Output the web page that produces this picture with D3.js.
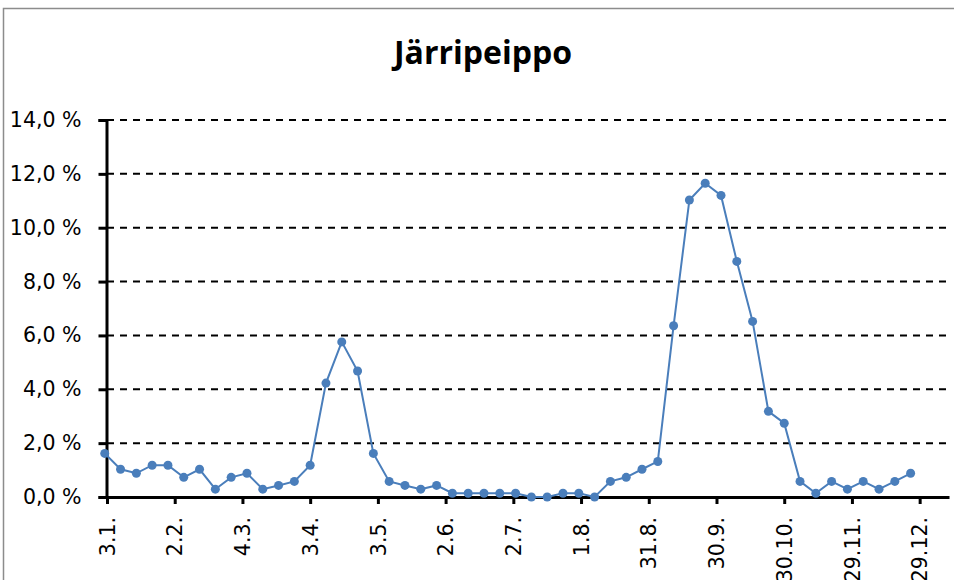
<!DOCTYPE html>
<html>
<head>
<meta charset="utf-8">
<script src="https://cdn.jsdelivr.net/npm/d3@7"></script>
<style>
  html, body { margin: 0; padding: 0; background: #fff; }
  svg { display: block; }
</style>
</head>
<body>
<svg id="chart"></svg>
<script>
// Chart data
const title = "Järripeippo";

// weekly observations, first week starting 2.1.
const firstWeek = "2021-01-02";
const shares = [
  1.62, 1.03, 0.88, 1.18, 1.18, 0.73, 1.03, 0.29, 0.73, 0.88,
  0.29, 0.43, 0.58, 1.18, 4.23, 5.76, 4.68, 1.62, 0.58, 0.43,
  0.29, 0.43, 0.14, 0.14, 0.14, 0.14, 0.14, 0.0, 0.0, 0.14,
  0.14, 0.0, 0.58, 0.73, 1.03, 1.32, 6.36, 11.03, 11.65, 11.2,
  8.75, 6.52, 3.18, 2.74, 0.58, 0.14, 0.58, 0.29, 0.58, 0.29,
  0.58, 0.88
];

// x tick labels (every 30 days from 3.1.)
const tickLabels = ["3.1.", "2.2.", "4.3.", "3.4.", "3.5.", "2.6.", "2.7.",
                    "1.8.", "31.8.", "30.9.", "30.10.", "29.11.", "29.12."];
const yTicks = [0, 2, 4, 6, 8, 10, 12, 14];

const W = 954, H = 580;
const plot = { left: 107, right: 949, top: 120, bottom: 497 };

const svg = d3.select("#chart").attr("width", W).attr("height", H);

const parse = d3.utcParse("%Y-%m-%d");
const start = parse("2021-01-03");
const x = d3.scaleUtc()
  .domain([start, d3.utcDay.offset(start, 373)])
  .range([plot.left, plot.right]);
const y = d3.scaleLinear().domain([0, 14]).range([plot.bottom, plot.top]);

const tickDates = tickLabels.map((_, i) => d3.utcDay.offset(start, i * 30));
const data = shares.map((v, i) => ({ date: d3.utcDay.offset(parse(firstWeek), i * 7), v }));

// outer frame
svg.append("rect")
  .attr("x", 3.5).attr("y", 8.5)
  .attr("width", 1000).attr("height", 1000)
  .attr("fill", "none")
  .attr("stroke", "#8c8c8c")
  .attr("stroke-width", 1.5);

// title
svg.append("text")
  .attr("x", 483).attr("y", 64)
  .attr("text-anchor", "middle")
  .attr("font-family", "'Open Sans', Lato, sans-serif")
  .attr("font-weight", "bold")
  .attr("font-size", 32)
  .attr("fill", "#000")
  .text(title);

// dashed gridlines
svg.append("g")
  .selectAll("line")
  .data(yTicks.filter(d => d > 0))
  .join("line")
  .attr("x1", plot.left).attr("x2", plot.right)
  .attr("y1", d => y(d)).attr("y2", d => y(d))
  .attr("stroke", "#000")
  .attr("stroke-width", 2)
  .attr("stroke-dasharray", "7,6");

// y axis
const yAxis = svg.append("g")
  .attr("transform", `translate(${plot.left - 0.5},0)`)
  .call(d3.axisLeft(y)
    .tickValues(yTicks)
    .tickSize(8)
    .tickPadding(17)
    .tickFormat(d => d3.format(".1f")(d).replace(".", ",") + " %"));
yAxis.select(".domain").attr("stroke", "#000").attr("stroke-width", 3);
yAxis.selectAll(".tick line").attr("stroke", "#000").attr("stroke-width", 3);
yAxis.selectAll(".tick text")
  .attr("font-family", "'DejaVu Sans', sans-serif")
  .attr("font-size", 20.5)
  .attr("fill", "#000");

// x axis
const xAxis = svg.append("g")
  .attr("transform", `translate(0,${plot.bottom})`)
  .call(d3.axisBottom(x)
    .tickValues(tickDates)
    .tickSize(7)
    .tickSizeOuter(0)
    .tickFormat((d, i) => tickLabels[i]));
xAxis.select(".domain").attr("stroke", "#000").attr("stroke-width", 3);
xAxis.selectAll(".tick line").attr("stroke", "#000").attr("stroke-width", 3);
xAxis.selectAll(".tick text")
  .attr("font-family", "'DejaVu Sans', sans-serif")
  .attr("font-size", 20.5)
  .attr("fill", "#000")
  .attr("transform", "rotate(-90)")
  .attr("text-anchor", "end")
  .attr("x", -20)
  .attr("y", 0)
  .attr("dy", "0.35em");

// series line + markers
const color = "#4a7ebb";
svg.append("path")
  .datum(data)
  .attr("fill", "none")
  .attr("stroke", color)
  .attr("stroke-width", 2)
  .attr("d", d3.line().x(d => x(d.date)).y(d => y(d.v)));

svg.append("g")
  .selectAll("circle")
  .data(data)
  .join("circle")
  .attr("cx", d => x(d.date))
  .attr("cy", d => y(d.v))
  .attr("r", 4.5)
  .attr("fill", color);
</script>
</body>
</html>
